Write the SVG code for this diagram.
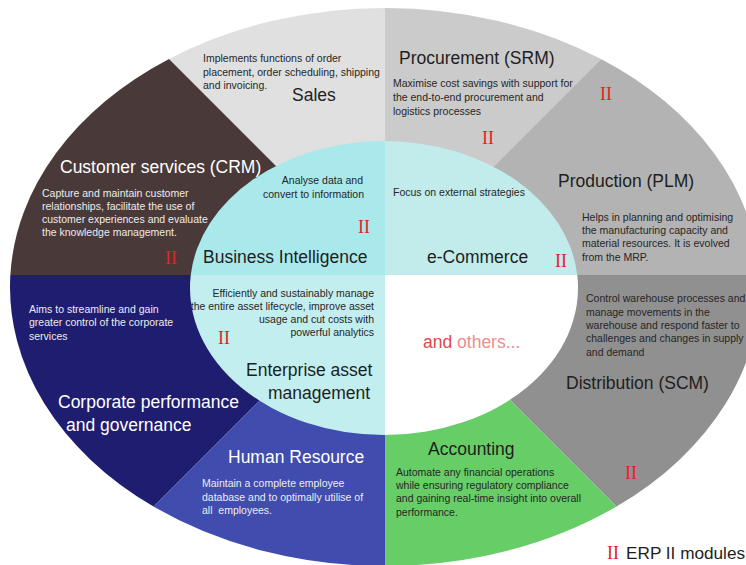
<svg xmlns="http://www.w3.org/2000/svg" width="746" height="565" viewBox="0 0 746 565">
<style>
text{font-family:"Liberation Sans",Arial,sans-serif}
.t{font-size:17.5px;fill:#1e1e1e}
.tw{font-size:17.5px;fill:#ffffff}
.d{font-size:10.5px;fill:#262626}
.dw{font-size:10.5px;fill:#ececec}
.ii{font-family:"Liberation Serif","Times New Roman",serif;font-size:18px;fill:#e52222}
.e{text-anchor:end}
</style>
<rect width="746" height="565" fill="#ffffff"/>
<g id="sales">
<path d="M385,275 L169,59 A375,279 0 0 1 385,8 Z" fill="#e0e0e0"/>
<text class="d" x="203" y="62">Implements functions of order</text>
<text class="d" x="203" y="75.5">placement, order scheduling, shipping</text>
<text class="d" x="203" y="89">and invoicing.</text>
<text class="t" x="292" y="101">Sales</text>
</g>
<g id="procurement">
<path d="M385,275 L385,8 A375,279 0 0 1 601,59 Z" fill="#cbcbcb"/>
<text class="t" x="399" y="64">Procurement (SRM)</text>
<text class="d" x="393" y="87">Maximise cost savings with support for</text>
<text class="d" x="393" y="101">the end-to-end procurement and</text>
<text class="d" x="393" y="115">logistics processes</text>
<text class="ii" x="482" y="144">II</text>
</g>
<g id="production">
<path d="M385,275 L601,59 A375,279 0 0 1 759.65,275 Z" fill="#b3b3b3"/>
<text class="ii" x="600" y="100">II</text>
<text class="t" x="558" y="187">Production (PLM)</text>
<text class="d" x="582" y="221">Helps in planning and optimising</text>
<text class="d" x="582" y="234">the manufacturing capacity and</text>
<text class="d" x="582" y="247">material resources. It is evolved</text>
<text class="d" x="582" y="261">from the MRP.</text>
</g>
<g id="distribution">
<path d="M385,275 L759.65,275 A375,279 0 0 1 616.5,506.5 Z" fill="#909090"/>
<text class="d" x="586" y="302">Control warehouse processes and</text>
<text class="d" x="586" y="316">manage movements in the</text>
<text class="d" x="586" y="329">warehouse and respond faster to</text>
<text class="d" x="586" y="342">challenges and changes in supply</text>
<text class="d" x="586" y="356">and demand</text>
<text class="t" x="566" y="389">Distribution (SCM)</text>
<text class="ii" x="625" y="479">II</text>
</g>
<g id="accounting">
<path d="M385,275 L616.5,506.5 A375,279 0 0 1 385,566 Z" fill="#67cd67"/>
<text class="t" x="428" y="455">Accounting</text>
<text class="d" x="396" y="476">Automate any financial operations</text>
<text class="d" x="396" y="489">while ensuring regulatory compliance</text>
<text class="d" x="396" y="502">and gaining real-time insight into overall</text>
<text class="d" x="396" y="516">performance.</text>
</g>
<g id="human-resource">
<path d="M385,275 L385,566 A375,279 0 0 1 153.5,506.5 Z" fill="#404cae"/>
<text class="tw" x="228" y="463">Human Resource</text>
<text class="dw" x="202" y="487">Maintain a complete employee</text>
<text class="dw" x="202" y="501">database and to optimally utilise of</text>
<text class="dw" x="202" y="514">all&#160; employees.</text>
</g>
<g id="corporate">
<path d="M385,275 L153.5,506.5 A375,279 0 0 1 10.35,275 Z" fill="#1f1d6f"/>
<text class="dw" x="29" y="313">Aims to streamline and gain</text>
<text class="dw" x="29" y="326">greater control of the corporate</text>
<text class="dw" x="29" y="340">services</text>
<text class="tw" x="58" y="408">Corporate performance</text>
<text class="tw" x="66" y="431">and governance</text>
</g>
<g id="crm">
<path d="M385,275 L10.35,275 A375,279 0 0 1 169,59 Z" fill="#4a3939"/>
<text class="tw" x="60" y="173">Customer services (CRM)</text>
<text class="dw" x="42" y="197">Capture and maintain customer</text>
<text class="dw" x="42" y="210">relationships, facilitate the use of</text>
<text class="dw" x="42" y="223">customer experiences and evaluate</text>
<text class="dw" x="42" y="236">the knowledge management.</text>
<text class="ii" x="165" y="264">II</text>
</g>
<g id="business-intelligence">
<path d="M385,275 L190.76,275 A194,147 0 0 1 385,141 Z" fill="#a9e9ec"/>
<text class="d e" x="363" y="184">Analyse data and</text>
<text class="d e" x="364" y="198">convert to information</text>
<text class="ii" x="358" y="233">II</text>
<text class="t" x="203" y="263">Business Intelligence</text>
</g>
<g id="e-commerce">
<path d="M385,275 L385,141 A194,147 0 0 1 577.24,275 Z" fill="#c2ecec"/>
<text class="d" x="393" y="196">Focus on external strategies</text>
<text class="t" x="427" y="263">e-Commerce</text>
<text class="ii" x="555" y="267">II</text>
</g>
<g id="others">
<path d="M385,275 L577.24,275 A194,147 0 0 1 385,435 Z" fill="#ffffff"/>
<text x="423" y="348" style="font-size:17.5px"><tspan fill="#e04a4a">and </tspan><tspan fill="#ee8e8e">others...</tspan></text>
</g>
<g id="enterprise-asset-management">
<path d="M385,275 L385,435 A194,147 0 0 1 190.76,275 Z" fill="#c3eef0"/>
<text class="d e" x="374" y="297">Efficiently and sustainably manage</text>
<text class="d e" x="374" y="310">the entire asset lifecycle, improve asset</text>
<text class="d e" x="374" y="323">usage and cut costs with</text>
<text class="d e" x="374" y="336">powerful analytics</text>
<text class="ii" x="218" y="344">II</text>
<text class="t" x="246" y="376">Enterprise asset</text>
<text class="t" x="268" y="399">management</text>
</g>
<g id="connectors"></g>
<g id="legend">
<text class="ii" x="607" y="559">II</text>
<text class="t" x="626" y="559" style="font-size:17.2px">ERP II modules</text>
</g>
</svg>
